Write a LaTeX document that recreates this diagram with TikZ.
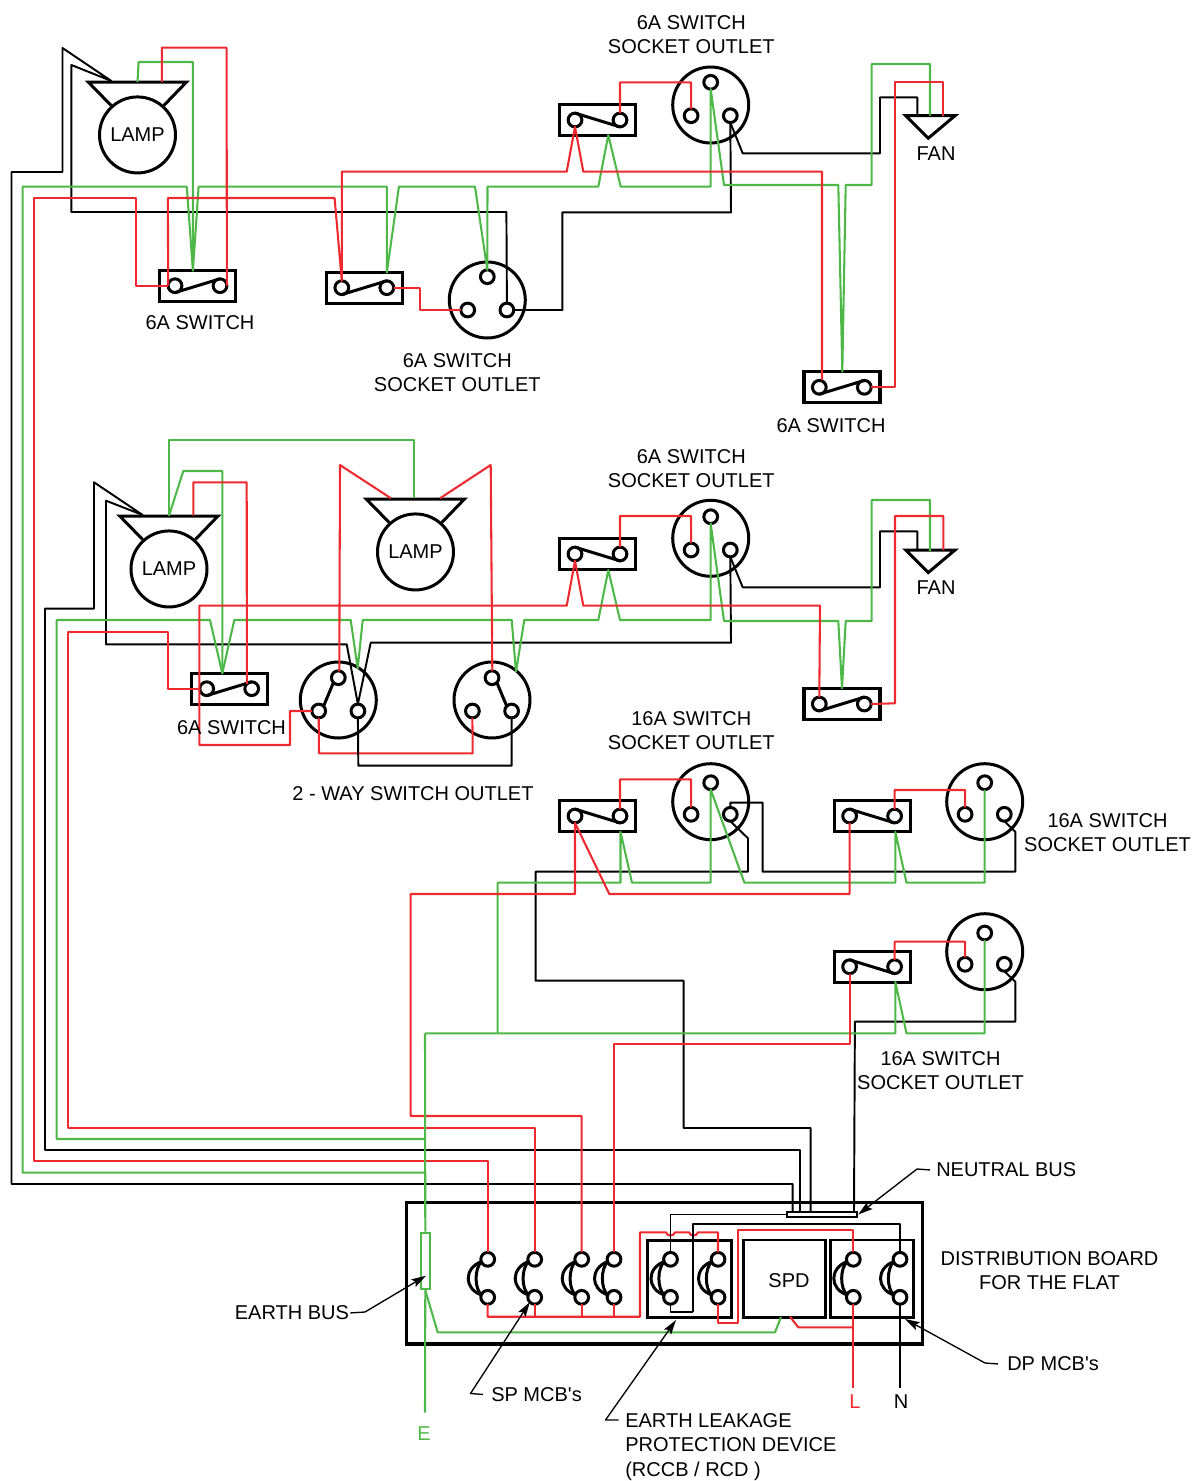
\documentclass[tikz,border=0pt]{standalone}
\usepackage{fontspec}
\newfontfamily\plainf{Liberation Sans}
\usetikzlibrary{arrows.meta}
\definecolor{wred}{HTML}{EE2A30}
\definecolor{wgreen}{HTML}{4DB848}
\tikzset{
  sym/.style={draw=black,line width=2.25pt,line join=miter},
  term/.style={circle,draw=black,line width=2.25pt,minimum size=10.3pt,inner sep=0pt,outer sep=0pt},
  swbox/.style={rectangle,draw=black,line width=2.4pt,minimum width=57pt,minimum height=23.25pt,inner sep=0pt,outer sep=0pt},
  bigc/.style={circle,draw=black,line width=2.25pt,minimum size=57pt,inner sep=0pt,outer sep=0pt},
  bw/.style={draw=black,line width=1.45pt,line join=round},
  rw/.style={draw=wred,line width=1.55pt,line join=round},
  gw/.style={draw=wgreen,line width=1.55pt,line join=round},
  txt/.style={font=\plainf\fontsize{15}{18.2}\selectfont,inner sep=0pt,align=center,yshift=-0.7pt},
  lab/.style={font=\plainf\fontsize{15}{18.4}\selectfont,inner ysep=0pt,align=left,yshift=-0.7pt},
  arr/.style={draw=black,line width=1pt,line join=round,-{Stealth[length=11pt,width=6.5pt,inset=2pt]}},
}
\newcommand{\swt}[5]{%
  \node[swbox] (#1) at (#2+22.6,#3) {};
  \node[term] (#1a) at (#2,#3) {};
  \node[term] (#1b) at (#2+45,#3) {};
  \draw[sym] (#1a.#4) -- (#1b.#5);}
\newcommand{\skt}[5]{%
  \node[bigc] (#1) at (#2,#3) {};
  \node[term] (#1t) at (#2,#3-#4) {};
  \node[term] (#1l) at (#2-19.6,#3+#5) {};
  \node[term] (#1r) at (#2+19.6,#3+#5) {};}
\newcommand{\lmp}[3]{%
  \node[bigc,txt,draw=black,line width=2.25pt] (#1) at (#2,#3) {LAMP};
  \draw[sym] (#2-26.4,#3-28.6) -- (#2-49.3,#3-52) -- (#2+49,#3-52) -- (#2+26.4,#3-28.6);}
\newcommand{\mcbk}[2]{%
  \node[term] (#1t) at (#2,1259.3) {};
  \node[term] (#1b) at (#2,1297.3) {};
  \draw[sym] (#2-6,1261.5) .. controls (#2-24,1268) and (#2-24,1289) .. (#2-6,1295);
  \draw[sym] (#2-6,1261.5) .. controls (#2-13.5,1268) and (#2-13.5,1289) .. (#2-6,1295);}
\newcommand{\fanm}[2]{%
  \draw[sym] (905.7,#1) -- (955,#1) -- (928.3,#1+22.5) -- cycle;
  \node[txt] (#2) at (936,#1+36.7) {FAN};}
\begin{document}
\begin{tikzpicture}[x=0.75pt,y=-0.75pt]
\useasboundingbox (0,0) rectangle (1201,1481);
% ---------- devices
\lmp{lamp1}{137.5}{134}
\lmp{lamp2}{169}{568}
\lmp{lamp3}{415.5}{551}
\swt{sa}{175}{285.7}{south}{north}
\swt{sb}{341.8}{287.7}{south}{north}
\swt{sc}{575}{120}{north}{south}
\swt{sd}{819.3}{387.3}{south}{north}
\swt{se}{206.7}{688.7}{south}{north}
\swt{sf}{575}{554}{north}{south}
\swt{sg}{819.3}{704}{south}{north}
\swt{sh}{575}{816}{north}{south}
\swt{si}{849.6}{816}{north}{south}
\swt{sj}{849.6}{966.7}{north}{south}
\skt{ka}{710.7}{105}{22.7}{10.7}
\skt{kb}{487.3}{300}{23.3}{10}
\skt{kc}{710.7}{538.3}{21.6}{11.7}
\skt{kd}{338.3}{700}{22.3}{11}
\skt{ke}{492}{700}{22.3}{11}
\skt{kf}{710.7}{801.7}{19}{12.6}
\skt{kg}{984.7}{801.7}{19}{12.6}
\skt{kh}{984.7}{951.7}{18.7}{12.6}
\draw[sym] (kdt.south west) -- (kdl.north east);
\draw[sym] (ket.south east) -- (ker.north west);
\fanm{115.7}{fana}
\fanm{550}{fanb}
% ---------- distribution board
\node[rectangle,draw=black,line width=2.5pt,minimum width=387pt,minimum height=106pt,inner sep=0pt] (board) at (664.5,1273.3) {};
\node[rectangle,draw=black,line width=2.2pt,minimum width=63.3pt,minimum height=58pt,inner sep=0pt] (elcb) at (689.5,1278.7) {};
\node[rectangle,draw=black,line width=2pt,minimum width=61.7pt,minimum height=58pt,inner sep=0pt] (spd) at (784.5,1278.7) {};
\node[txt] (spdt) at (789,1279.5) {SPD};
\node[rectangle,draw=black,line width=2pt,minimum width=62pt,minimum height=58pt,inner sep=0pt] (dpb) at (872,1278.7) {};
\mcbk{ma}{487.7}
\mcbk{mb}{534.7}
\mcbk{mc}{581.7}
\mcbk{md}{614}
\mcbk{me}{670.5}
\mcbk{mf}{718}
\mcbk{mg}{853.3}
\mcbk{mh}{900}
\node[rectangle,draw=black,line width=1.3pt,minimum width=53pt,minimum height=4.2pt,inner sep=0pt] (nb) at (822,1214.5) {};
\node[rectangle,draw=wgreen,line width=1.45pt,fill=white,minimum width=7pt,minimum height=42.5pt,inner sep=0pt] (eb) at (425.3,1261) {};
% ---------- free ends
\coordinate (nb1) at (792.7,1211.7);
\coordinate (nb2) at (800,1211.7);
\coordinate (nb3) at (810.7,1211.7);
\coordinate (nb4) at (854,1211.7);
\coordinate (ej1) at (425,1172.7);
\coordinate (ej2) at (425,1139);
\coordinate (ej3) at (425,1033.3);
% ---------- row 1
\draw[bw] (nb1) -- (792.7,1184) -- (11.5,1184) -- (11.5,172) -- (62.5,172) -- (62.5,48) -- (111.4,81) -- (71.4,65) -- (71.4,212) -- (506.4,212) -- (kbr.north);
\draw[bw] (kbr.east) -- (562.3,310) -- (562.3,212.3) -- (731,212.3) -- (kar.south);
\draw[bw] (kar.south) -- (742.7,153.3) -- (880,153.3) -- (880,97.3) -- (917.3,97.3) -- (917.3,115.7);
\draw[gw] (ej1) -- (22.7,1172.7) -- (22.7,186.7) -- (186.8,186.7) -- (192.9,270.7) -- (198.6,186.7) -- (386.8,186.7) -- (386.8,272.7) -- (398.9,186.7) -- (475,186.7) -- (kbt.north) -- (487.5,186.7) -- (598.3,186.7) -- (608.3,135) -- (620.7,186.7) -- (710.7,186.7) -- (kat.south) -- (724,185) -- (838.3,185) -- (842.3,371.7) -- (845.7,185) -- (871.7,185) -- (871.7,64) -- (930,64) -- (930,115.7);
\draw[gw] (137.5,82) -- (138.6,62) -- (192.9,62) -- (192.9,270.7);
\draw[rw] (161.8,82) -- (161.8,47.7) -- (226.6,47.7) -- (sab.east);
\draw[rw] (mat.north) -- (487.7,1161.3) -- (34.3,1161.3) -- (34.3,198) -- (135.7,198) -- (135.7,285.7) -- (saa.west);
\draw[rw] (saa.west) -- (167.9,198) -- (334.6,198) -- (sba.north) -- (341.8,171.7) -- (566.7,171.7) -- (sca.south) -- (583.3,171.7) -- (822,171.7) -- (822,380);
\draw[rw] (sbb.east) -- (419.6,287.7) -- (419.6,310) -- (kbl.west);
\draw[rw] (scb.north) -- (620,82.3) -- (691,82.3) -- (kal.north);
\draw[rw] (sdb.east) -- (895,387.3) -- (895,82.3) -- (943.3,82.3) -- (943.3,115.7);
% ---------- row 2
\draw[bw] (nb2) -- (800,1150) -- (45,1150) -- (45,608.7) -- (94,608.7) -- (94,482.3) -- (142.7,515) -- (106,500.7) -- (106,644.3) -- (346.7,644.3) -- (kdr.north) -- (370.7,642.7) -- (731,642.7) -- (kcr.south);
\draw[bw] (kcr.south) -- (742.7,587.3) -- (880,587.3) -- (880,531.3) -- (917.3,531.3) -- (917.3,550);
\draw[gw] (ej2) -- (56.7,1139) -- (56.7,620) -- (210,620) -- (222.3,673.3) -- (234.3,620) -- (350.7,620) -- (357.7,668.3) -- (362.7,620) -- (511.7,620) -- (516,671.7) -- (524.3,620) -- (598.3,620) -- (608.3,570) -- (620,620) -- (710.7,620) -- (kct.south) -- (724,621) -- (838.3,621) -- (842,688.3) -- (845.7,621) -- (871.7,621) -- (871.7,500) -- (930,500) -- (930,551);
\draw[gw] (169,515.7) -- (169,440) -- (414,440) -- (414,498.3);
\draw[gw] (169,515.7) -- (183.3,471) -- (222.3,471) -- (222.3,673.3);
\draw[rw] (193.3,515.7) -- (193.3,482.3) -- (246.7,482.3) -- (seb.135);
\draw[rw] (mbt.north) -- (534.7,1127.7) -- (67.7,1127.7) -- (67.7,632) -- (168.3,632) -- (168.3,688.7) -- (sea.west);
\draw[rw] (kdl.west) -- (290,711) -- (290,745) -- (199.3,745) -- (199.3,605.7) -- (566.7,605.7) -- (sfa.south) -- (583.3,605.7) -- (820,605.7) -- (sga.north);
\draw[rw] (391,498.3) -- (340,465) -- (339.3,670) -- (kdt.north);
\draw[rw] (440,498.3) -- (490.7,465) -- (492.3,670) -- (ket.north);
\draw[rw] (kdl.south) -- (319,753.3) -- (472.7,753.3) -- (kel.south);
\draw[bw] (kdr.south) -- (358.3,765.7) -- (511.6,765.7) -- (ker.south);
\draw[rw] (sfb.north) -- (620,516) -- (691,516) -- (kcl.north);
\draw[rw] (sgb.east) -- (895,703.3) -- (895,516) -- (943.3,516) -- (943.3,550);
% ---------- row 3
\draw[bw] (nb3) -- (810.7,1128) -- (683.7,1128) -- (683.7,980.7) -- (535.6,980.7) -- (535.6,871.7) -- (748,871.7) -- (748,838.3) -- (kfr.south);
\draw[bw] (kfr.north) -- (730.3,802.7) -- (762.6,802.7) -- (762.6,871.7) -- (1015.3,871.7) -- (1015.3,831.7) -- (kgr.south);
\draw[bw] (nb4) -- (854.9,1021.7) -- (1015.3,1021.7) -- (1015.3,981.7) -- (khr.south);
\draw[gw] (ej3) -- (895.3,1033.3) -- (895.3,981.7) -- (906.5,1033.3) -- (984.7,1033.3) -- (kht.south);
\draw[gw] (497.7,1033.3) -- (497.7,882.7) -- (620.5,882.7) -- (620.5,831.7) -- (632,882.7) -- (710.7,882.7) -- (kft.south) -- (744.4,882.7) -- (895.3,882.7) -- (895.3,831.7) -- (906.5,882.7) -- (984.7,882.7) -- (kgt.south);
\draw[rw] (mct.north) -- (581.7,1116) -- (410.7,1116) -- (410.7,894) -- (575,894) -- (sha.south) -- (609.3,894) -- (849.6,894) -- (sia.south);
\draw[rw] (shb.north) -- (620,779.3) -- (691,779.3) -- (kfl.north);
\draw[rw] (sib.north) -- (894.6,790) -- (965.1,790) -- (kgl.north);
\draw[rw] (sjb.north) -- (894.6,941.7) -- (965.1,941.7) -- (khl.north);
\draw[rw] (mdt.north) -- (614,1044.3) -- (849.6,1044.3) -- (sja.south);
% ---------- earth
\draw[gw] (ej3) -- (eb.north);
\coordinate (eend) at (425,1412.7);
\draw[gw] (eb.south) -- (eend);
\draw[gw] (eb.south) -- (437.7,1332.3) -- (775,1332.3) -- (781,1317);
% ---------- board wiring
\draw[rw] (mab.south) -- (487.7,1316.7) -- (640,1316.7) -- (640,1232.3) -- (666,1232.3) .. controls (667,1236.5) and (674,1236.5) .. (675,1232.3) -- (689,1232.3) .. controls (690,1236.5) and (697,1236.5) .. (698,1232.3) -- (718,1232.3) -- (mft.north);
\draw[rw] (mbb.south) -- (534.7,1316.7);
\draw[rw] (mcb.south) -- (581.7,1316.7);
\draw[rw] (mdb.south) -- (614,1316.7);
\draw[rw] (mfb.south) -- (718,1323.3) -- (738.3,1323.3) -- (738.3,1230) -- (853.3,1230) -- (mgt.north);
\draw[rw] (790,1316.7) -- (798.3,1327.3) -- (853.3,1327.3);
\coordinate (lend) at (853.3,1388);
\coordinate (nend) at (900,1388);
\draw[rw] (mgb.south) -- (lend);
\draw[bw] (mhb.south) -- (nend);
\draw[bw] (nb.west) -- (670.5,1214.5) -- (met.north);
\draw[bw] (693.3,1312.3) -- (693.3,1224.3) -- (900,1224.3) -- (mht.north);
\draw[bw] (meb.south) -- (670.5,1312.3) -- (693.3,1312.3);
% ---------- texts
\node[txt] (t1) at (691.3,34) {6A SWITCH\\SOCKET OUTLET};
\node[txt] (t2) at (200,322) {6A SWITCH};
\node[txt] (t3) at (457.3,372) {6A SWITCH\\SOCKET OUTLET};
\node[txt] (t4) at (831,425) {6A SWITCH};
\node[txt] (t5) at (691.3,468) {6A SWITCH\\SOCKET OUTLET};
\node[txt] (t6) at (231.5,727) {6A SWITCH};
\node[txt] (t7) at (413,793) {2 - WAY SWITCH OUTLET};
\node[txt] (t8) at (691.3,730) {16A SWITCH\\SOCKET OUTLET};
\node[txt] (t9) at (1107.5,832) {16A SWITCH\\SOCKET OUTLET};
\node[txt] (t10) at (940.5,1070) {16A SWITCH\\SOCKET OUTLET};
\node[txt] (t11) at (1049.5,1270) {DISTRIBUTION BOARD\\FOR THE FLAT};
\node[txt,text=wgreen] (tE) at (424,1433) {E};
\node[txt,text=wred] (tL) at (855,1401) {L};
\node[txt] (tN) at (901,1401) {N};
\node[lab,inner xsep=4.5pt,anchor=west] (lnb) at (930,1169) {NEUTRAL BUS};
\node[lab,inner xsep=0.8pt,anchor=east] (leb) at (350.3,1312) {EARTH BUS};
\node[lab,inner xsep=6pt,anchor=west] (lsp) at (483,1393.5) {SP MCB's};
\node[lab,inner xsep=0pt,anchor=west] (lel) at (625,1446) {EARTH LEAKAGE\\PROTECTION DEVICE\\(RCCB / RCD )};
\node[lab,inner xsep=6.75pt,anchor=west] (ldp) at (998,1363) {DP MCB's};
\coordinate (elstart) at (618.7,1420);
% ---------- pointers
\draw[arr] (lnb.west) -- (917,1169) -- (nb.east);
\draw[arr] (leb.east) -- (365,1312) -- (426,1275.7);
\draw[arr] (lsp.west) -- (470.5,1393.5) -- (mbb.south west);
\draw[arr] (elstart) -- (605.5,1420) -- (676,1320);
\draw[arr] (ldp.west) -- (985,1363) -- (905,1319);
\end{tikzpicture}
\end{document}
